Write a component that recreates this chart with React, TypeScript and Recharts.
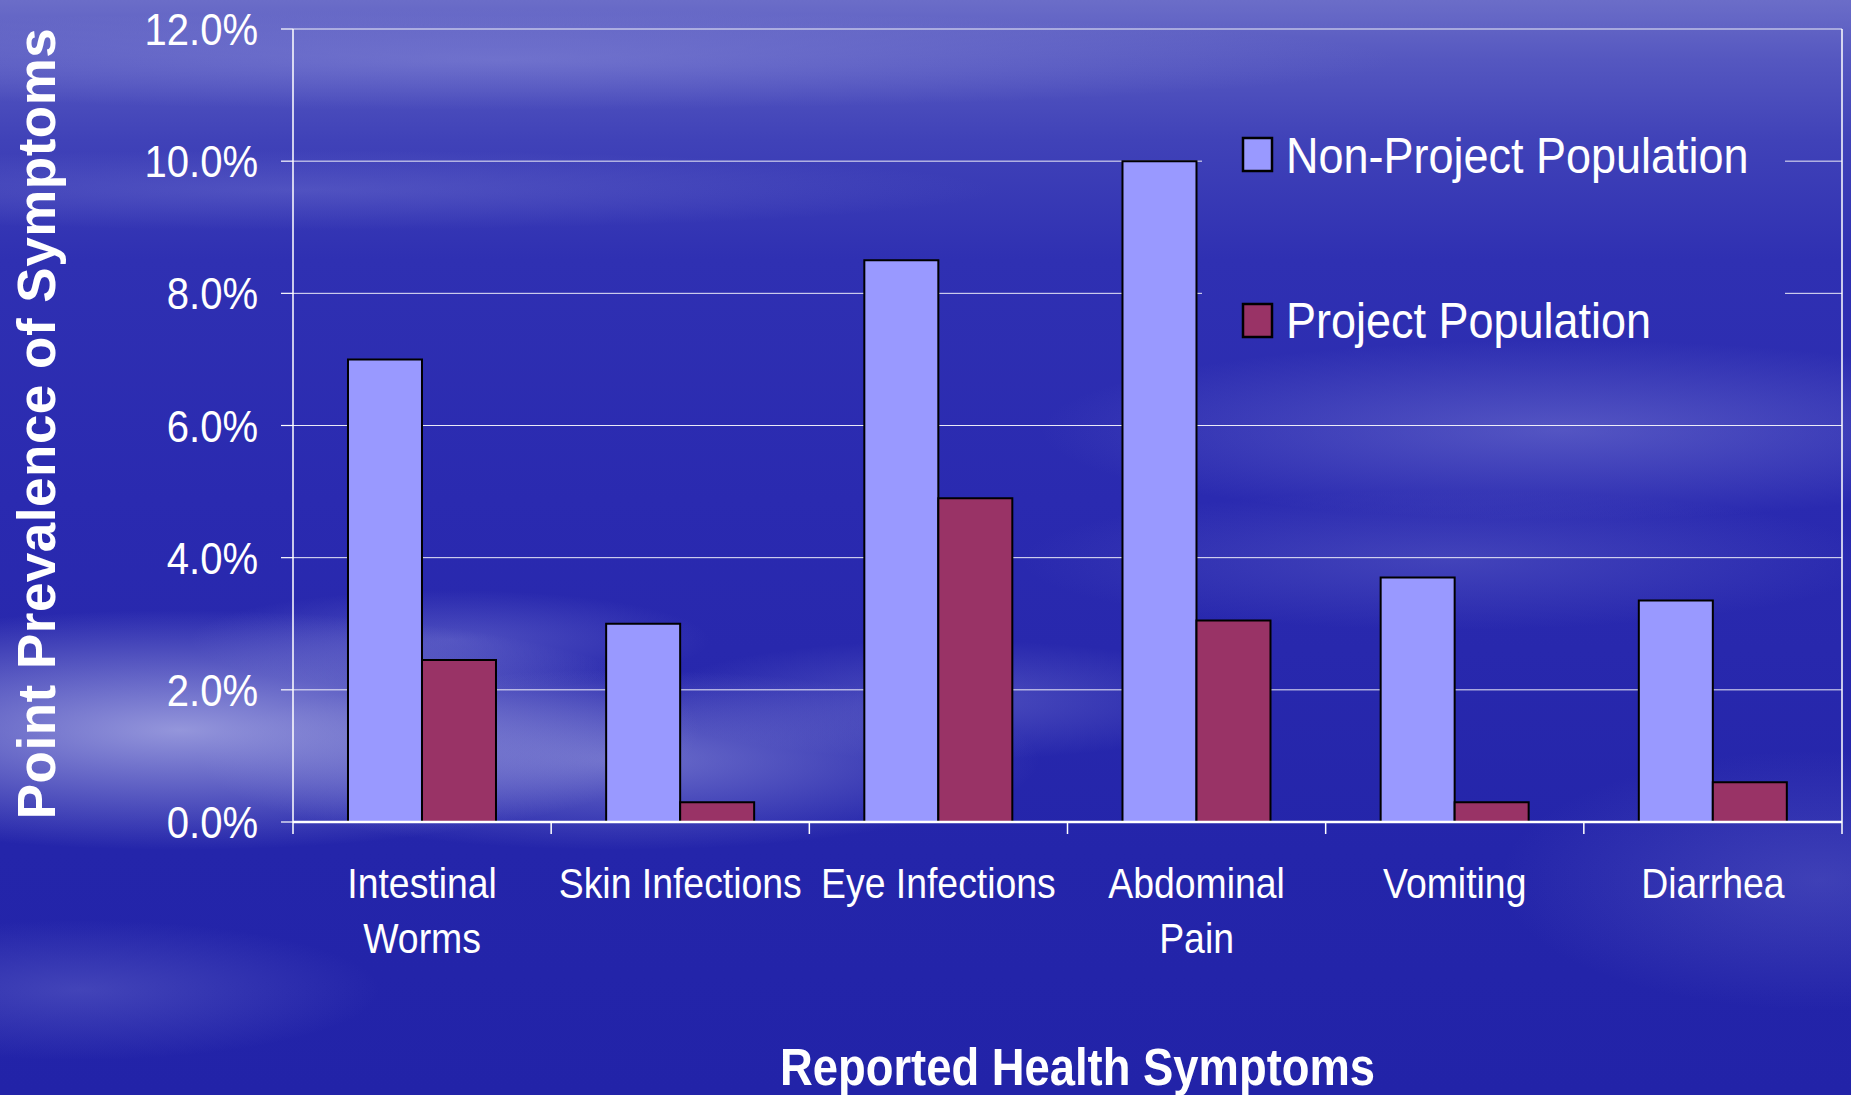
import React from 'react';
import { BarChart, Bar, XAxis, YAxis, CartesianGrid, Legend } from 'recharts';

// ---------- data ----------
const categories = ['Intestinal Worms', 'Skin Infections', 'Eye Infections', 'Abdominal Pain', 'Vomiting', 'Diarrhea'];
const categoryLabelLines = [['Intestinal', 'Worms'], ['Skin Infections'], ['Eye Infections'], ['Abdominal', 'Pain'], ['Vomiting'], ['Diarrhea']];
const nonProjectValues = [7.0, 3.0, 8.5, 10.0, 3.7, 3.35];
const projectValues = [2.45, 0.3, 4.9, 3.05, 0.3, 0.6];
const yTicks = [0, 2, 4, 6, 8, 10, 12];
const seriesNames = ['Non-Project Population', 'Project Population'];
const seriesColors = ['#9999FF', '#993366'];
const yAxisTitle = 'Point Prevalence of Symptoms';
const xAxisTitle = 'Reported Health Symptoms';

const data = categories.map((c, i) => ({ category: c, nonProject: nonProjectValues[i], project: projectValues[i] }));

// ---------- layout ----------
const W = 1851;
const H = 1095;
const TOP = 29;
const Y_AXIS_W = 293;
const RIGHT_W = 9;
const X_AXIS_H = 273;
const PLOT_W = W - Y_AXIS_W - RIGHT_W;
const PLOT_H = H - TOP - X_AXIS_H;
const BAND = PLOT_W / categories.length;
const FONT = '"Liberation Sans", Arial, Helvetica, sans-serif';
const SX = 0.89;

const BG = [
  'radial-gradient(ellipse 520px 120px at 180px 730px, rgba(185,187,235,0.75), rgba(185,187,235,0))',
  'radial-gradient(ellipse 420px 90px at 620px 760px, rgba(165,167,228,0.55), rgba(165,167,228,0))',
  'radial-gradient(ellipse 300px 60px at 950px 700px, rgba(145,147,222,0.35), rgba(145,147,222,0))',
  'radial-gradient(ellipse 260px 50px at 450px 640px, rgba(150,152,225,0.35), rgba(150,152,225,0))',
  'radial-gradient(ellipse 520px 90px at 1560px 430px, rgba(140,142,220,0.42), rgba(140,142,220,0))',
  'radial-gradient(ellipse 430px 70px at 1450px 560px, rgba(125,127,212,0.3), rgba(125,127,212,0))',
  'radial-gradient(ellipse 320px 130px at 1820px 880px, rgba(125,127,212,0.3), rgba(125,127,212,0))',
  'radial-gradient(ellipse 300px 70px at 80px 990px, rgba(140,142,220,0.3), rgba(140,142,220,0))',
  'radial-gradient(ellipse 900px 50px at 500px 60px, rgba(160,162,228,0.35), rgba(160,162,228,0))',
  'radial-gradient(ellipse 700px 40px at 300px 190px, rgba(150,152,225,0.25), rgba(150,152,225,0))',
  'linear-gradient(180deg, #6b6dc8 0px, #5557c0 60px, #4042b8 140px, #2f30b2 260px, #2a2ab0 500px, #2828ad 650px, #2425aa 850px, #2223a8 1095px)',
].join(',');

function YTick(props: any) {
  const { x, y, payload } = props;
  return (
    <text
      transform={`translate(${x},${y + 16}) scale(${SX},1)`}
      textAnchor="end"
      fill="#fff"
      fontFamily={FONT}
      fontSize={45}
    >
      {Number(payload.value).toFixed(1)}%
    </text>
  );
}

function XTick(props: any) {
  const { x, y, payload, index } = props;
  const half = BAND / 2;
  const lines = categoryLabelLines[index] || [String(payload.value)];
  return (
    <g>
      <line x1={x - half} x2={x - half} y1={y - 12} y2={y} stroke="#fff" strokeWidth={1.5} />
      {index === categories.length - 1 && (
        <line x1={x + half} x2={x + half} y1={y - 12} y2={y} stroke="#fff" strokeWidth={1.5} />
      )}
      {lines.map((l: string, i: number) => (
        <text
          key={i}
          transform={`translate(${x},${y + 64 + i * 55}) scale(${SX},1)`}
          textAnchor="middle"
          fill="#fff"
          fontFamily={FONT}
          fontSize={42}
        >
          {l}
        </text>
      ))}
    </g>
  );
}

function YTitle() {
  const cy = TOP + PLOT_H / 2 - 2;
  return (
    <text
      transform={`translate(55,${cy}) rotate(-90)`}
      textAnchor="middle"
      fill="#fff"
      fontFamily={FONT}
      fontWeight="bold"
      fontSize={53}
      letterSpacing={0.5}
    >
      {yAxisTitle}
    </text>
  );
}

function XTitle() {
  const cx = Y_AXIS_W + PLOT_W / 2 + 10;
  return (
    <text
      transform={`translate(${cx},${H - 10}) scale(${SX},1)`}
      textAnchor="middle"
      fill="#fff"
      fontFamily={FONT}
      fontWeight="bold"
      fontSize={51}
    >
      {xAxisTitle}
    </text>
  );
}

const LEG_LEFT = 1202;
const LEG_TOP = 100;
const LEG_W = 583;
const LEG_H = 262;

function LegendContent() {
  const rows = [
    { y: 38, base: 73 },
    { y: 204, base: 238 },
  ];
  return (
    <svg width={LEG_W} height={LEG_H} style={{ display: 'block' }}>
      {seriesNames.map((n, i) => (
        <g key={n}>
          <rect x={41} y={rows[i].y} width={29} height={33} fill={seriesColors[i]} stroke="#000" strokeWidth={2.5} />
          <text
            transform={`translate(84,${rows[i].base}) scale(0.9,1)`}
            fill="#fff"
            fontFamily={FONT}
            fontSize={50}
          >
            {n}
          </text>
        </g>
      ))}
    </svg>
  );
}

export default function App() {
  return (
    <div
      style={{
        position: 'absolute',
        left: 0,
        top: 0,
        width: W,
        height: H,
        overflow: 'hidden',
        background: BG,
        backgroundSize: `${W}px ${H}px`,
        backgroundRepeat: 'no-repeat',
      }}
    >
      <BarChart
        width={W}
        height={H}
        data={data}
        margin={{ top: TOP, right: 0, bottom: 0, left: 0 }}
        barCategoryGap="21.3%"
        barGap={0}
      >
        <CartesianGrid horizontal vertical={false} stroke="#ffffff" strokeWidth={1} strokeOpacity={0.9} />
        <XAxis
          dataKey="category"
          height={X_AXIS_H}
          interval={0}
          tickLine={false}
          tickSize={12}
          tickMargin={0}
          axisLine={{ stroke: '#ffffff', strokeWidth: 2.5 }}
          tick={<XTick />}
          label={<XTitle />}
        />
        <YAxis
          width={Y_AXIS_W}
          domain={[0, 12]}
          ticks={yTicks}
          interval={0}
          tickSize={12}
          tickMargin={23}
          tickLine={{ stroke: '#ffffff', strokeWidth: 1.2 }}
          axisLine={{ stroke: '#ffffff', strokeWidth: 1.5 }}
          tick={<YTick />}
          label={<YTitle />}
        />
        <YAxis
          yAxisId="r"
          orientation="right"
          width={RIGHT_W}
          domain={[0, 12]}
          tick={false}
          tickLine={false}
          axisLine={{ stroke: '#ffffff', strokeWidth: 1.5 }}
        />
        <Legend
          layout="horizontal"
          verticalAlign="middle"
          align="center"
          width={LEG_W}
          height={LEG_H}
          wrapperStyle={{
            position: 'absolute',
            left: LEG_LEFT,
            top: LEG_TOP,
            width: LEG_W,
            height: LEG_H,
            background: BG,
            backgroundSize: `${W}px ${H}px`,
            backgroundPosition: `${-LEG_LEFT}px ${-LEG_TOP}px`,
            backgroundRepeat: 'no-repeat',
          }}
          content={<LegendContent />}
        />
        <Bar dataKey="nonProject" name={seriesNames[0]} fill={seriesColors[0]} stroke="#000" strokeWidth={2} isAnimationActive={false} />
        <Bar dataKey="project" name={seriesNames[1]} fill={seriesColors[1]} stroke="#000" strokeWidth={2} isAnimationActive={false} />
      </BarChart>
    </div>
  );
}
